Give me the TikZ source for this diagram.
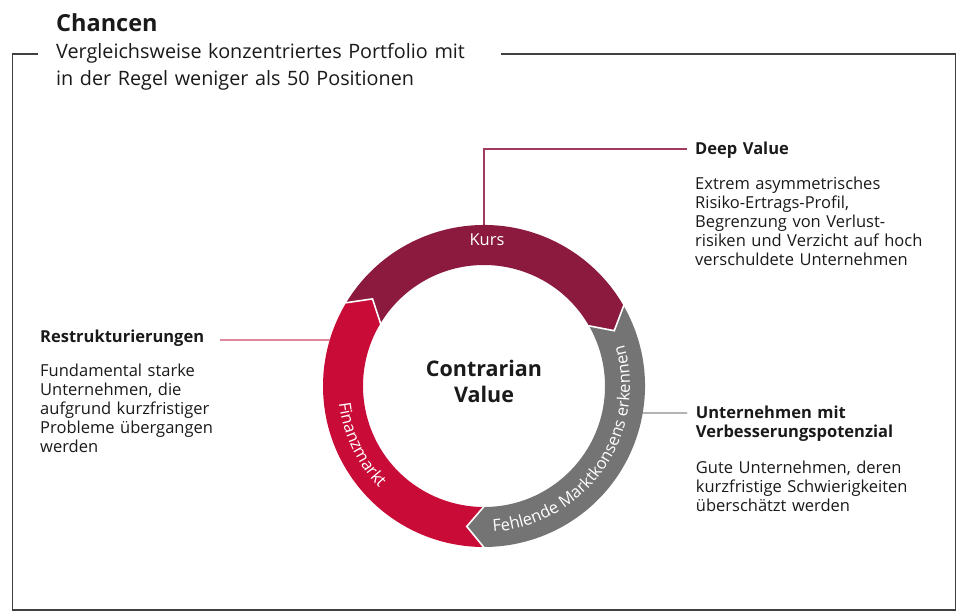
\documentclass[tikz,border=0pt]{standalone}
\usepackage{fontspec}
\setmainfont{Open Sans}
\usetikzlibrary{decorations.text}
\definecolor{kurs}{HTML}{8B1A3E}
\definecolor{fin}{HTML}{C90B37}
\definecolor{greyseg}{HTML}{747474}
\definecolor{textc}{HTML}{1A1A1A}
\definecolor{framec}{HTML}{404040}
\definecolor{dvline}{HTML}{A03A60}
\definecolor{reline}{HTML}{D0486A}
\definecolor{guline}{HTML}{8C8C8C}
\begin{document}
\begin{tikzpicture}[x=1pt,y=1pt,
  txt/.style={inner sep=0pt, anchor=base west, text width=260pt, align=left,
              font=\fontsize{16.5}{19}\selectfont, text=textc},
  ttl/.style={txt, font=\fontsize{16.5}{19.4}\selectfont\bfseries},
  conn/.style={line width=1.2pt},
  sep/.style={white, line width=1.6pt, line join=miter},
  ringlabel/.style={text=white, font=\fontsize{16.5}{19}\selectfont, inner sep=0pt}]
\useasboundingbox (0,0) rectangle (960,613);
\fill[white] (0,0) rectangle (960,613);

% frame
\draw[framec, line width=1.2pt] (38,559) -- (12.5,559) -- (12.5,3) -- (955.5,3) -- (955.5,559) -- (501,559);

% heading
\node[txt, font=\fontsize{23.5}{28}\selectfont\bfseries] (chancen) at (56,581) {Chancen};
\node[txt, text width=440pt, font=\fontsize{19.8}{27}\selectfont] (sub) at (56,554)
  {Vergleichsweise konzentriertes Portfolio mit\\in der Regel weniger als 50 Positionen};

% ring anchors
\begin{scope}[shift={(484,227)}]
  \coordinate (ktop) at (90:161pt);
  \coordinate (fleft) at (163.4:161pt);
  \coordinate (gright) at (-9.65:161pt);
\end{scope}
\coordinate (dvend) at (687,464);
\coordinate (reend) at (220,273);
\coordinate (guend) at (687,200);

% connectors
\draw[conn, dvline] (ktop) |- (dvend);
\draw[conn, reline] (fleft) -- (reend);
\draw[conn, guline] (gright) -- (guend);

% ring
\begin{scope}[shift={(484,227)}]
  \fill[kurs] (149:161pt) arc[start angle=149, end angle=30, radius=161pt]
    -- (23:141.5pt) -- (30:121pt) arc[start angle=30, end angle=149, radius=121pt]
    -- (142:141.5pt) -- cycle;
  \fill[greyseg] (30:161pt) arc[start angle=30, end angle=-90, radius=161pt]
    -- (-97:141.5pt) -- (-90:121pt) arc[start angle=-90, end angle=30, radius=121pt]
    -- (23:141.5pt) -- cycle;
  \fill[fin] (270:161pt) arc[start angle=270, end angle=149, radius=161pt]
    -- (142:141.5pt) -- (149:121pt) arc[start angle=149, end angle=270, radius=121pt]
    -- (263:141.5pt) -- cycle;
  \draw[sep] (30:161.5pt) -- (23:141.5pt) -- (30:120.5pt);
  \draw[sep] (-90:161.5pt) -- (-97:141.5pt) -- (-90:120.5pt);
  \draw[sep] (149:161.5pt) -- (142:141.5pt) -- (149:120.5pt);
  \path[decorate, decoration={text along path, text align=center, text color=white,
      text={|\fontsize{16.5}{19}\selectfont|Fehlende Marktkonsens erkennen}}]
    (-95:146pt) arc[start angle=-95, end angle=25, radius=146pt];
  \path[decorate, decoration={text along path, text align=center, text color=white,
      text={|\fontsize{16.5}{19}\selectfont|Finanzmarkt}}]
    (170:146pt) arc[start angle=170, end angle=241, radius=146pt];
\end{scope}
\node[ringlabel, anchor=base] (kurs) at (487,367) {Kurs};

% centre
\node[inner sep=0pt, anchor=base, text width=200pt, align=center,
      font=\fontsize{21.5}{25.6}\selectfont\bfseries, text=textc] (cv) at (484,236.3)
  {Contrarian\\Value};

% Deep Value
\node[ttl] (dvt) at (695,458) {Deep Value};
\node[txt] (dvb) at (695,423.7)
  {Extrem asymmetrisches\\Risiko-Ertrags-Profil,\\Begrenzung von Verlust-\\risiken und Verzicht auf hoch\\verschuldete Unternehmen};

% Restrukturierungen
\node[ttl] (ret) at (40,270.3) {Restrukturierungen};
\node[txt] (reb) at (40,236.3)
  {Fundamental starke\\Unternehmen, die\\aufgrund kurzfristiger\\Probleme übergangen\\werden};

% Unternehmen mit Verbesserungspotenzial
\node[ttl] (gut) at (695.7,194.7) {Unternehmen mit\\Verbesserungspotenzial};
\node[txt] (gub) at (695.7,139.7)
  {Gute Unternehmen, deren\\kurzfristige Schwierigkeiten\\überschätzt werden};
\end{tikzpicture}
\end{document}
